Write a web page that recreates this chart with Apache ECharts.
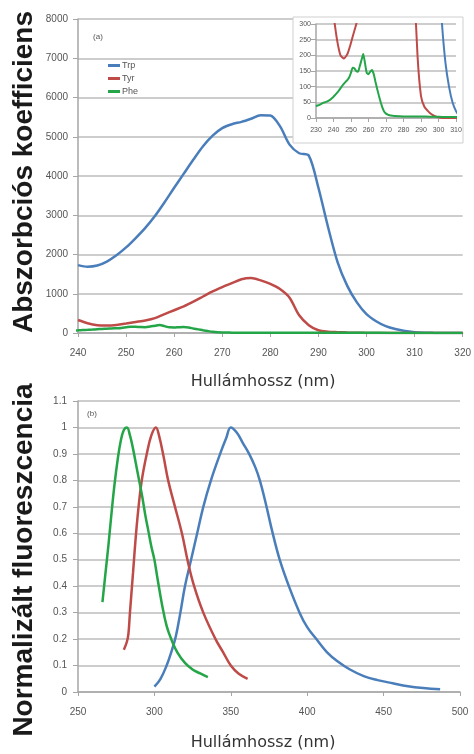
<!DOCTYPE html>
<html>
<head>
<meta charset="utf-8">
<script src="https://cdn.jsdelivr.net/npm/echarts@6/dist/echarts.min.js"></script>
<style>
  html, body { margin: 0; padding: 0; background: #fff; }
  #chart { width: 474px; height: 754px; }
</style>
</head>
<body>
<div id="chart"></div>
<script>
// absorption (a) - Trp / Tyr sampled every 2 nm
const absNm = [240,242,244,246,248,250,252,254,256,258,260,262,264,266,268,270,272,274,276,278,280,
  282,284,286,288,290,292,294,296,298,300,302,304,306,308,310,312,314,316,318,320]
const trpAbs = [1730,1690,1720,1820,1980,2180,2420,2680,2980,3330,3700,4060,4420,4760,5030,5220,5320,5380,5460,5550,5540,
  5270,4800,4580,4520,3700,2700,1800,1200,780,480,300,175,100,50,22,8,3,1,0,0]
const tyrAbs = [330,250,200,190,205,240,280,320,380,480,580,680,800,930,1060,1170,1270,1370,1400,1340,1250,
  1120,900,450,200,70,35,22,12,6,2,0,0,0,0,0,0,0,0,0,0]
// Phe sampled every 1 nm where it has detail
const pheNm = [230,231,232,233,234,235,236,237,238,239,240,241,242,243,244,245,246,247,248,249,250,
  251,252,253,254,255,256,257,258,259,260,261,262,263,264,265,266,267,268,269,270,271,272,273,274,275,
  280,285,290,295,300,305,310,315,320]
const pheAbs = [38,40,42,45,48,50,52,55,58,63,68,74,80,87,95,103,110,116,122,130,145,
  160,158,150,148,165,185,204,175,144,140,148,153,140,115,92,70,50,32,20,14,11,9,8,7,6,
  5,5,5,4,4,3,3,2,2]

// normalized fluorescence (b)
const trpFlNm = [300,304,308,311,314,317,320,324,328,332,337,343,347,350,354,358,362,366,369,373,377,382,388,395,400,406,413,420,428,437,446,456,466,476,487]
const trpFl = [0.02,0.05,0.1,0.15,0.21,0.3,0.4,0.5,0.6,0.7,0.8,0.9,0.96,1.0,0.98,0.94,0.9,0.85,0.8,0.71,0.61,0.5,0.4,0.3,0.245,0.2,0.15,0.115,0.085,0.06,0.045,0.033,0.022,0.015,0.01]
const tyrFlNm = [280,282,283,284,286,288,290,292,295,298,301,303,306,309,313,318,322,326,332,340,345,350,355,361]
const tyrFl = [0.16,0.19,0.22,0.3,0.45,0.6,0.72,0.81,0.9,0.97,1.0,0.97,0.89,0.8,0.71,0.6,0.49,0.4,0.3,0.2,0.15,0.1,0.07,0.05]
const pheFlNm = [266,268,270,272,274,276,278,280,282,284,286,288,290,292,294,296,298,300,302,305,308,311,315,320,325,330,335]
const pheFl = [0.34,0.45,0.56,0.68,0.79,0.88,0.95,0.99,1.0,0.97,0.92,0.86,0.8,0.74,0.67,0.61,0.55,0.5,0.43,0.33,0.25,0.2,0.15,0.11,0.085,0.07,0.056]

const names = ['Trp', 'Tyr', 'Phe']
const colors = ['#4A7EBB', '#BE4B48', '#23A548']

function pairs (xs, ys) {
  return xs.map((x, i) => [x, ys[i]])
}

const gridGray = '#bdbdbd'
const labelGray = '#555'

function axisX (idx, min, max, step, fs, margin, z) {
  return {
    type: 'value', gridIndex: idx, min: min, max: max, interval: step, z: z,
    axisLine: { show: true, lineStyle: { color: '#a6a6a6', width: 1.5 } },
    axisTick: { show: true, length: 4, lineStyle: { color: '#a6a6a6' } },
    axisLabel: { fontSize: fs, color: labelGray, margin: margin, fontFamily: 'Liberation Sans', formatter: v => String(v) },
    splitLine: { show: false }
  }
}
function axisY (idx, min, max, step, fs, margin, z) {
  return {
    type: 'value', gridIndex: idx, min: min, max: max, interval: step, z: z,
    axisLine: { show: true, lineStyle: { color: '#a6a6a6', width: 1.5 } },
    axisTick: { show: true, length: 5, lineStyle: { color: '#a6a6a6' } },
    axisLabel: { fontSize: fs, color: labelGray, margin: margin, fontFamily: 'Liberation Sans', formatter: v => String(+v.toFixed(2)) },
    splitLine: { show: true, lineStyle: { color: gridGray, width: 1.5 } }
  }
}

function line (name, data, color, xi, width, smooth, z) {
  return {
    name: name, type: 'line', data: data, xAxisIndex: xi, yAxisIndex: xi,
    showSymbol: false, smooth: smooth, z: z, clip: true,
    lineStyle: { color: color, width: width }, itemStyle: { color: color }
  }
}

const absSets = [pairs(absNm, trpAbs), pairs(absNm, tyrAbs), pairs(pheNm, pheAbs)]
const flSets = [pairs(trpFlNm, trpFl), pairs(tyrFlNm, tyrFl), pairs(pheFlNm, pheFl)]

const series = []
absSets.forEach((d, i) => series.push(line(names[i], d, colors[i], 0, 2.5, 0.3, 2)))
absSets.forEach((d, i) => series.push(line(names[i], d, colors[i], 1, 2, 0.2, 12)))
flSets.forEach((d, i) => series.push(line(names[i], d, colors[i], 2, 2.5, 0.4, 2)))

const option = {
  animation: false,
  backgroundColor: '#fff',
  grid: [
    { left: 78, top: 19, width: 387, height: 314 },
    { left: 316, top: 24, width: 140, height: 94, z: 11 },
    { left: 78, top: 401, width: 382, height: 291 }
  ],
  xAxis: [
    axisX(0, 240, 320, 10, 10, 15, 0),
    axisX(1, 230, 310, 10, 7, 9, 11),
    axisX(2, 250, 500, 50, 10, 15, 0)
  ],
  yAxis: [
    axisY(0, 0, 8000, 1000, 10, 10, 0),
    axisY(1, 0, 300, 50, 7, 5, 11),
    axisY(2, 0, 1.1, 0.1, 10, 11, 0)
  ],
  legend: {
    data: names, orient: 'vertical', left: 103, top: 56,
    itemWidth: 12, itemHeight: 3, itemGap: 4, icon: 'rect',
    textStyle: { fontSize: 9, color: labelGray, fontFamily: 'Liberation Sans', padding: [0, 0, 0, -3] }
  },
  graphic: [
    {
      type: 'rect', z: 10,
      shape: { x: 293, y: 17, width: 170, height: 126 },
      style: { fill: '#fff', stroke: '#cfcfcf', lineWidth: 1 }
    },
    {
      type: 'text', x: 24, y: 172, rotation: Math.PI / 2,
      style: { text: 'Abszorbciós koefficiens', font: 'bold 28px "Liberation Sans"', fill: '#1a1a1a', textAlign: 'center', textVerticalAlign: 'middle' }
    },
    {
      type: 'text', x: 24, y: 560, rotation: Math.PI / 2,
      style: { text: 'Normalizált fluoreszcencia', font: 'bold 28px "Liberation Sans"', fill: '#1a1a1a', textAlign: 'center', textVerticalAlign: 'middle' }
    },
    {
      type: 'text', x: 263, y: 382,
      style: { text: 'Hullámhossz (nm)', font: '16px "DejaVu Sans"', fill: '#333', textAlign: 'center', textVerticalAlign: 'middle' }
    },
    {
      type: 'text', x: 263, y: 743,
      style: { text: 'Hullámhossz (nm)', font: '16px "DejaVu Sans"', fill: '#333', textAlign: 'center', textVerticalAlign: 'middle' }
    },
    {
      type: 'text', x: 98, y: 37,
      style: { text: '(a)', font: '8px "Liberation Sans"', fill: '#555', textAlign: 'center', textVerticalAlign: 'middle' }
    },
    {
      type: 'text', x: 92, y: 414,
      style: { text: '(b)', font: '8px "Liberation Sans"', fill: '#555', textAlign: 'center', textVerticalAlign: 'middle' }
    }
  ],
  series: series
}

const myChart = echarts.init(document.getElementById('chart'))
myChart.setOption(option)
</script>
</body>
</html>
